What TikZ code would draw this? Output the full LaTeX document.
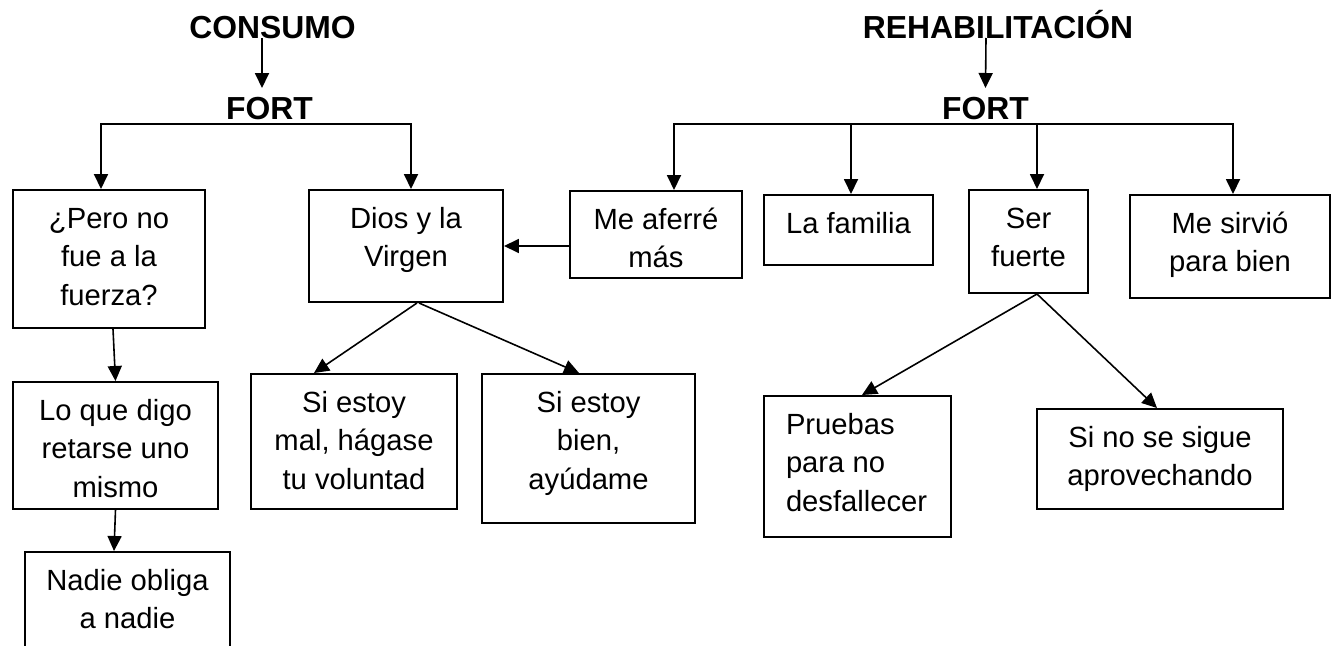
\documentclass[tikz,border=0pt]{standalone}
\usepackage{fontspec}
\setmainfont{Liberation Sans}
\usepackage{tikz}
\usetikzlibrary{arrows.meta}

\newlength\pxu
\setlength\pxu{0.3767pt}
\newcommand{\letra}{\fontsize{11}{14.5}\selectfont}
\newcommand{\caja}[4][\centering]{\parbox[t][#3\pxu][t]{#2\pxu}{#1\vspace*{11.5\pxu}\strut#4}}

\begin{document}
\begin{tikzpicture}[x=\pxu,y=-\pxu,
  caja/.style={draw,line width=0.75pt,inner sep=0pt,anchor=north west,font=\letra},
  titulo/.style={inner sep=0pt,anchor=base,font=\fontsize{12}{14}\selectfont\bfseries},
  flecha/.style={line width=0.6pt,-{Triangle[length=5.65pt,width=5.3pt]}}]
\useasboundingbox (0,0) rectangle (1336,645);
\clip (0,0) rectangle (1336,645);
\node[titulo] (consumo) at (272.5,38) {CONSUMO};
\node[titulo] (fortI) at (269.5,119) {FORT};
\node[titulo] (rehab) at (998,38) {REHABILITACIÓN};
\node[titulo] (fortD) at (985.5,119) {FORT};
\node[caja] (pero) at (12,189) {\caja{192}{138}{¿Pero no\\fue a la\\fuerza?}};
\node[caja] (dios) at (308,189) {\caja{194}{112}{Dios y la\\Virgen}};
\node[caja] (aferre) at (569,190) {\caja{172}{87}{Me aferré\\más}};
\node[caja] (familia) at (763,194) {\caja{169}{70}{La familia}};
\node[caja] (fuerte) at (968,189) {\caja{119}{103}{Ser\\fuerte}};
\node[caja] (sirvio) at (1129,194) {\caja{200}{103}{Me sirvió\\para bien}};
\node[caja] (lo) at (12,381) {\caja{205}{127}{Lo que digo\\retarse uno\\mismo}};
\node[caja] (nadie) at (24,551) {\caja{205}{130}{Nadie obliga\\a nadie}};
\node[caja] (mal) at (250,373) {\caja{206}{135}{Si estoy\\mal, hágase\\tu voluntad}};
\node[caja] (bien) at (481,373) {\caja{213}{149}{Si estoy\\bien,\\ayúdame}};
\node[caja] (pruebas) at (763,395) {\caja[\raggedright\leftskip=22\pxu\relax]{187}{141}{Pruebas\\para no\\desfallecer}};
\node[caja] (sigue) at (1036,408) {\caja{246}{100}{Si no se sigue\\aprovechando}};
\coordinate (barI) at ([yshift=-5\pxu]fortI.base);
\coordinate (barD) at ([yshift=-5\pxu]fortD.base);
\draw[flecha] ([xshift=-10.5\pxu]consumo.base) -- ([xshift=-7.5\pxu,yshift=31\pxu]fortI.base);
\draw[flecha] ([xshift=-12\pxu]rehab.base) -- ([yshift=31\pxu]fortD.base);
\draw[flecha] (barI) -| ([xshift=-8\pxu]pero.north);
\draw[flecha] (barI) -| ([xshift=5\pxu]dios.north);
\draw[flecha] (barD) -| ([xshift=18\pxu]aferre.north);
\draw[flecha] (barD) -| ([xshift=2.5\pxu]familia.north);
\draw[flecha] (barD) -| ([xshift=8.5\pxu]fuerte.north);
\draw[flecha] (barD) -| ([xshift=3\pxu]sirvio.north);
\draw[flecha] (aferre.west |- dios.east) -- (dios.east);
\draw[flecha] ([xshift=4\pxu]pero.south) -- (lo.north);
\draw[flecha] (lo.south) -- ([xshift=-13.5\pxu]nadie.north);
\draw[flecha] ([xshift=11\pxu]dios.south) -- ([xshift=-40\pxu]mal.north);
\draw[flecha] ([xshift=13\pxu]dios.south) -- ([xshift=-9.5\pxu]bien.north);
\draw[flecha] ([xshift=8.5\pxu]fuerte.south) -- ([xshift=4.5\pxu]pruebas.north);
\draw[flecha] ([xshift=8.5\pxu]fuerte.south) -- ([xshift=-3\pxu]sigue.north);
\end{tikzpicture}
\end{document}
